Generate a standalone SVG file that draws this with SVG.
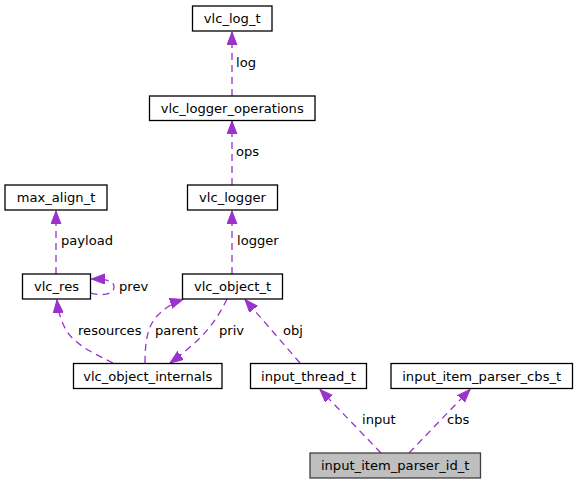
<svg xmlns="http://www.w3.org/2000/svg" width="578" height="484" viewBox="0 0 578 484">
<style>
.box{fill:#ffffff;stroke:#000000;stroke-width:1.3}
.root{fill:#bfbfbf;stroke:#404040;stroke-width:1.3}
.t{font-family:"DejaVu Sans",sans-serif;font-size:13.1px;fill:#000000;text-anchor:middle}
.l{font-family:"DejaVu Sans",sans-serif;font-size:13.1px;fill:#000000;text-anchor:start}
.e{fill:none;stroke:#9a32cd;stroke-width:1.3;stroke-dasharray:7,5;marker-end:url(#ah)}
</style>
<defs>
<marker id="ah" markerUnits="userSpaceOnUse" markerWidth="14" markerHeight="11" refX="13" refY="5" orient="auto" viewBox="0 0 14 11">
<path d="M0,0 L13,5 L0,10 Z" fill="#9a32cd" stroke="#9a32cd" stroke-width="1"/>
</marker>
</defs>
<rect width="578" height="484" fill="#ffffff"/>
<g id="connectors">
<path class="e" d="M232,96 L232,32"/>
<path class="e" d="M232,185 L232,121"/>
<path class="e" d="M232,274 L232,211"/>
<path class="e" d="M56,274 L56,211"/>
<path class="e" d="M90.5,293 C101,296 114,295 114,287 C114,281 107,279 91.5,279"/>
<path class="e" d="M113,363 C95,354 75,345 66,330 C61,321 58,311 57,300"/>
<path class="e" d="M145,363 C145,340 148,325 158,315 C166,307 175,302 183,299.5"/>
<path class="e" d="M227,299 C218,318 205,335 190,347 C183,353 177,358 170,363"/>
<path class="e" d="M300,363 L245,299.5"/>
<path class="e" d="M381,453 L320,389.5"/>
<path class="e" d="M409,453 L470,389.5"/>
<text class="l" x="119" y="291">prev</text>
<text class="l" x="236" y="67">log</text>
<text class="l" x="236" y="156">ops</text>
<text class="l" x="237" y="245">logger</text>
<text class="l" x="61" y="245">payload</text>
<text class="l" x="78" y="335">resources</text>
<text class="l" x="155" y="335">parent</text>
<text class="l" x="219" y="335">priv</text>
<text class="l" x="283" y="335">obj</text>
<text class="l" x="362" y="424">input</text>
<text class="l" x="447" y="424">cbs</text>
</g>
<g id="vlc_log_t"><rect class="box" x="192.5" y="6" width="79.5" height="25"/><text class="t" x="232.2" y="23">vlc_log_t</text></g>
<g id="vlc_logger_operations"><rect class="box" x="149.5" y="96" width="165.5" height="24.5"/><text class="t" x="232.2" y="112.5">vlc_logger_operations</text></g>
<g id="vlc_logger"><rect class="box" x="187.5" y="185" width="90" height="25"/><text class="t" x="232.5" y="202">vlc_logger</text></g>
<g id="max_align_t"><rect class="box" x="5" y="185" width="102" height="25"/><text class="t" x="56" y="202">max_align_t</text></g>
<g id="vlc_res"><rect class="box" x="22.5" y="274" width="68" height="25"/><text class="t" x="56.5" y="291">vlc_res</text></g>
<g id="vlc_object_t"><rect class="box" x="182.5" y="274" width="100" height="25"/><text class="t" x="232.5" y="291">vlc_object_t</text></g>
<g id="vlc_object_internals"><rect class="box" x="73.5" y="363.5" width="148.5" height="25"/><text class="t" x="147.7" y="380.5">vlc_object_internals</text></g>
<g id="input_thread_t"><rect class="box" x="250.5" y="363.5" width="116" height="25"/><text class="t" x="308.5" y="380.5">input_thread_t</text></g>
<g id="input_item_parser_cbs_t"><rect class="box" x="391" y="363.5" width="181.5" height="25"/><text class="t" x="481.7" y="380.5">input_item_parser_cbs_t</text></g>
<g id="input_item_parser_id_t"><rect class="root" x="310" y="453" width="170.5" height="25"/><text class="t" x="395.2" y="470">input_item_parser_id_t</text></g>
</svg>
